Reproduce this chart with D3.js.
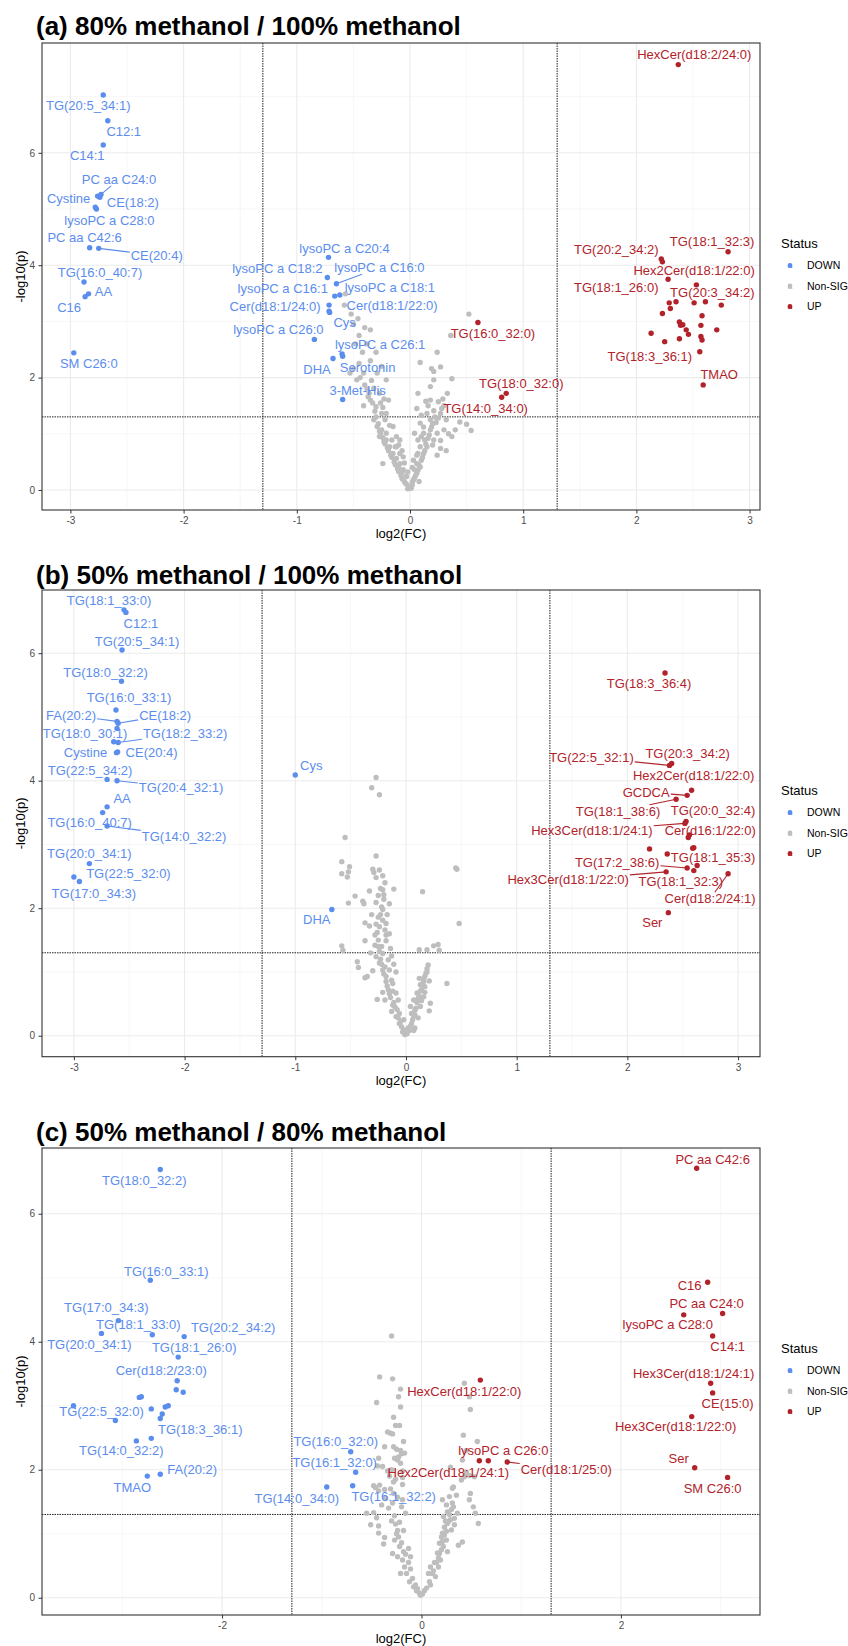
<!DOCTYPE html>
<html>
<head>
<meta charset="utf-8">
<script src="https://cdnjs.cloudflare.com/ajax/libs/d3/7.8.5/d3.min.js"></script>
<style>
  html, body { margin: 0; padding: 0; background: #fff; }
  svg text { font-family: "Liberation Sans", Arial, Helvetica, sans-serif; }
</style>
</head>
<body>
<div id="chart"></div>
<script>
'use strict';

// ---- data: [log2FC, -log10p] for non-significant points, [name, log2FC, -log10p] for hits
var aNonSig = [[-0.57,3.49],[-0.58,3.29],[-0.52,3.13],[-0.40,2.89],[-0.35,2.85],[0.52,3.13],[0.36,2.75],[0.24,2.45],[0.09,2.27],[0.19,2.16],[0.27,2.19],[0.21,2.11],[0.37,1.98],[-0.35,2.30],[-0.50,2.16],[-0.53,2.08],[-0.47,1.96],[-0.40,1.87],[-0.32,1.81],[-0.27,1.72],[0.07,1.72],[0.18,1.60],[0.25,1.57],[-0.41,1.50],[-0.24,1.47],[-0.21,1.36],[0.06,1.45],[0.15,1.36],[0.21,1.41],[0.27,1.36],[0.32,1.25],[0.50,1.17],[0.54,1.06],[0.40,1.07],[0.37,0.95],[-0.32,1.25],[-0.29,1.13],[-0.25,1.07],[-0.21,1.01],[-0.16,0.89],[-0.18,0.77],[-0.15,0.65],[-0.12,0.56],[-0.24,0.47],[-0.09,0.47],[-0.06,0.36],[-0.03,0.24],[-0.01,0.06],[0.03,0.18],[0.06,0.30],[0.09,0.41],[0.10,0.53],[0.12,0.65],[0.15,0.77],[0.21,0.89],[0.24,1.01],[0.18,1.07],[0.09,1.19],[0.04,1.01],[0.27,0.74],[0.32,0.70],[0.07,0.65],[0.03,0.53],[-0.09,0.65],[-0.13,0.77],[-0.21,0.89],[-0.27,0.95],[-0.22,1.25],[-0.25,1.36],[0.12,1.01],[0.13,0.89],[0.18,1.25],[0.22,1.30],[0.10,1.33],[-0.15,1.13],[-0.19,1.60],[-0.37,1.66],[-0.29,2.08],[-0.04,0.12],[0.02,0.09],[-0.07,0.30],[-0.10,0.41],[0.04,0.36],[0.06,0.47],[-0.12,0.77],[0.09,0.77],[0.07,0.89],[-0.09,0.89],[-0.06,0.59],[0.30,1.07],[0.44,1.21],[-0.21,1.96],[-0.41,2.08],[0.21,1.96],[0.18,1.84],
  [-0.02,0.02],[-0.03,0.10],[-0.05,0.15],[-0.07,0.20],[-0.08,0.26],[-0.10,0.33],[-0.11,0.38],[-0.13,0.45],[-0.14,0.50],[-0.16,0.58],[-0.17,0.62],[-0.19,0.70],[-0.20,0.75],[-0.22,0.82],[-0.23,0.86],[-0.24,0.93],[-0.26,1.00],[-0.27,1.05],[-0.28,1.18],[-0.30,1.30],[-0.31,1.40],[-0.33,1.55],[-0.35,1.60],[-0.30,1.48],[-0.26,1.55],[-0.23,1.62],[-0.36,1.72],[-0.38,1.80],[-0.34,1.95],[-0.44,2.00],[-0.45,2.25],[-0.42,2.45],[-0.48,2.60],[-0.38,2.60],[-0.45,2.75],[-0.50,2.95],[-0.46,3.05],[-0.30,2.45],[-0.25,2.20],[-0.18,1.15],[-0.12,0.95],[-0.10,0.80],[-0.07,0.70],[-0.05,0.48],[-0.02,0.32],
  [0.01,0.03],[0.02,0.14],[0.04,0.22],[0.05,0.26],[0.07,0.35],[0.08,0.44],[0.11,0.58],[0.13,0.70],[0.14,0.82],[0.16,0.92],[0.17,0.98],[0.19,1.12],[0.20,1.18],[0.23,1.20],[0.25,1.28],[0.28,1.45],[0.30,1.50],[0.12,1.12],[0.16,1.50],[0.14,1.58],[0.10,0.95],[0.20,0.80],[0.24,0.62],[0.27,0.88],[0.34,1.00],[0.06,0.62],[0.02,0.40],[0.08,0.15],[0.29,1.62],[0.33,1.72]];

var aDown = [["TG(20:5_34:1)",-2.71,7.03],["C12:1",-2.67,6.57],["C14:1",-2.71,6.14],["PC aa C24:0",-2.73,5.26],["Cystine",-2.76,5.23],["CE(18:2)",-2.74,5.21],["lysoPC a C28:0",-2.77,5.00],["",-2.78,5.03],["PC aa C42:6",-2.83,4.31],["CE(20:4)",-2.75,4.30],["TG(16:0_40:7)",-2.88,3.70],["AA",-2.84,3.49],["C16",-2.87,3.44],["SM C26:0",-2.97,2.44],["lysoPC a C20:4",-0.72,4.14],["lysoPC a C18:2",-0.73,3.78],["lysoPC a C16:0",-0.65,3.67],["lysoPC a C16:1",-0.665,3.45],["lysoPC a C18:1",-0.62,3.47],["Cer(d18:1/22:0)",-0.715,3.29],["Cer(d18:1/24:0)",-0.715,3.18],["Cys",-0.71,3.16],["lysoPC a C26:0",-0.845,2.68],["lysoPC a C26:1",-0.60,2.42],["Serotonin",-0.595,2.38],["DHA",-0.68,2.34],["3-Met-His",-0.595,1.61]];

var aUp = [["HexCer(d18:2/24:0)",2.37,7.57],["TG(18:1_32:3)",2.81,4.24],["TG(20:2_34:2)",2.22,4.11],["",2.23,4.06],["Hex2Cer(d18:1/22:0)",2.28,3.75],["TG(20:3_34:2)",2.53,3.65],["TG(18:1_26:0)",2.29,3.33],["TG(18:3_36:1)",2.56,2.46],["TMAO",2.59,1.87],["TG(16:0_32:0)",0.60,2.98],["TG(18:0_32:0)",0.85,1.72],["TG(14:0_34:0)",0.81,1.65],["",2.35,3.35],["",2.30,3.23],["",2.51,3.33],["",2.61,3.35],["",2.75,3.29],["",2.23,3.14],["",2.58,3.10],["",2.38,2.99],["",2.39,2.93],["",2.41,2.94],["",2.57,2.93],["",2.44,2.85],["",2.46,2.77],["",2.71,2.85],["",2.13,2.79],["",2.25,2.64],["",2.38,2.69],["",2.57,2.73],["",2.58,2.67]];

var bNonSig = [[-0.27,4.05],[-0.31,3.89],[-0.24,3.78],[-0.55,3.11],[-0.27,2.82],[-0.58,2.73],[-0.51,2.65],[-0.52,2.57],[-0.58,2.54],[-0.53,2.49],[-0.30,2.61],[-0.29,2.56],[-0.21,2.51],[-0.27,2.48],[0.45,2.63],[0.46,2.61],[-0.23,2.31],[-0.21,2.29],[-0.11,2.30],[-0.33,2.27],[0.15,2.26],[-0.46,2.19],[-0.20,2.21],[-0.20,2.14],[-0.39,2.11],[-0.52,2.08],[-0.27,2.09],[-0.38,2.07],[-0.15,2.07],[-0.21,1.98],[-0.31,1.90],[-0.25,1.86],[-0.21,1.81],[-0.18,1.76],[-0.37,1.77],[-0.33,1.72],[-0.24,1.71],[-0.19,1.66],[-0.28,1.58],[-0.18,1.58],[-0.37,1.49],[-0.18,1.49],[0.48,1.76],[-0.58,1.41],[-0.57,1.34],[-0.28,1.42],[-0.22,1.40],[-0.14,1.37],[0.12,1.35],[0.19,1.35],[0.25,1.41],[0.29,1.43],[0.30,1.34],[-0.44,1.16],[-0.43,1.07],[-0.27,1.24],[-0.24,1.14],[-0.19,1.08],[-0.15,1.03],[-0.09,1.00],[-0.37,0.91],[-0.35,0.93],[-0.18,0.93],[-0.13,0.87],[0.20,1.11],[0.19,1.00],[0.17,0.93],[0.16,0.85],[0.13,0.80],[0.14,0.72],[0.10,0.67],[0.11,0.59],[0.37,0.82],[0.22,0.51],[0.21,0.39],[-0.21,0.68],[-0.16,0.72],[-0.09,0.67],[-0.26,0.57],[-0.19,0.56],[-0.12,0.48],[-0.13,0.38],[-0.09,0.30],[-0.06,0.19],[-0.02,0.09],[0.00,0.04],[0.02,0.12],[0.05,0.19],[0.07,0.08],[0.07,0.30],[0.08,0.40],[0.04,0.46],[0.13,0.46],[-0.06,0.35],[-0.07,0.56],[0.07,0.56],[-0.02,0.25],[0.16,0.61],[0.17,0.77],[-0.12,0.82],[-0.16,1.19],[-0.21,1.29],[-0.25,1.50],
  [-0.01,0.02],[-0.03,0.06],[-0.04,0.14],[-0.05,0.22],[-0.07,0.28],[-0.08,0.41],[-0.10,0.45],[-0.11,0.52],[-0.14,0.60],[-0.15,0.66],[-0.17,0.78],[-0.18,0.85],[-0.20,0.97],[-0.21,1.03],[-0.22,1.12],[-0.23,1.20],[-0.24,1.32],[-0.25,1.40],[-0.26,1.62],[-0.27,1.75],[-0.23,1.90],[-0.22,2.02],[-0.25,2.20],[-0.19,2.40],[-0.24,2.60],[-0.17,1.90],[-0.15,1.60],[-0.13,1.25],[-0.11,1.12],[-0.12,0.70],[-0.30,1.02],[-0.32,1.30],
  [0.01,0.03],[0.03,0.08],[0.04,0.15],[0.06,0.25],[0.08,0.33],[0.09,0.43],[0.10,0.52],[0.12,0.62],[0.13,0.70],[0.15,0.82],[0.16,0.90],[0.18,0.98],[0.19,1.05],[0.08,0.12],[0.11,0.28],[0.05,0.35],[0.14,0.55],[0.17,0.68],[0.21,0.86],[0.12,0.90]];

var bDown = [["TG(18:1_33:0)",-2.547,6.68],["C12:1",-2.53,6.64],["TG(20:5_34:1)",-2.565,6.05],["TG(18:0_32:2)",-2.57,5.56],["TG(16:0_33:1)",-2.62,5.11],["FA(20:2)",-2.61,4.93],["CE(18:2)",-2.60,4.90],["TG(18:0_30:1)",-2.61,4.82],["TG(18:2_33:2)",-2.60,4.60],["",-2.64,4.61],["Cystine",-2.615,4.44],["CE(20:4)",-2.605,4.45],["TG(22:5_34:2)",-2.70,4.02],["TG(20:4_32:1)",-2.61,4.00],["AA",-2.70,3.59],["TG(16:0_40:7)",-2.74,3.50],["TG(14:0_32:2)",-2.70,3.29],["TG(20:0_34:1)",-2.86,2.70],["TG(22:5_32:0)",-2.95,2.42],["TG(17:0_34:3)",-3.00,2.49],["Cys",-1.00,4.09],["DHA",-0.67,1.98]];

var bUp = [["TG(18:3_36:4)",2.34,5.69],["TG(20:3_34:2)",2.40,4.27],["TG(22:5_32:1)",2.38,4.24],["Hex2Cer(d18:1/22:0)",2.58,3.85],["GCDCA",2.54,3.77],["TG(18:1_38:6)",2.44,3.71],["TG(20:0_32:4)",2.53,3.36],["Hex3Cer(d18:1/24:1)",2.52,3.33],["Cer(d16:1/22:0)",2.55,3.11],["",2.56,3.15],["",2.60,2.95],["",2.59,2.94],["",2.20,2.93],["",2.36,2.85],["TG(18:1_35:3)",2.63,2.67],["TG(17:2_38:6)",2.54,2.63],["Hex3Cer(d18:1/22:0)",2.35,2.57],["TG(18:1_32:3)",2.60,2.59],["Cer(d18:2/24:1)",2.91,2.54],["Ser",2.37,1.93]];

var cNonSig = [[-0.30,4.09],[-0.42,3.45],[-0.29,3.42],[-0.21,3.26],[-0.23,3.14],[-0.45,3.05],[-0.21,2.98],[0.43,3.35],[0.48,3.14],[0.49,2.94],[-0.28,2.82],[-0.26,2.69],[-0.22,2.69],[-0.34,2.59],[-0.29,2.56],[-0.18,2.44],[0.42,2.54],[0.56,2.44],[-0.37,2.36],[-0.28,2.36],[-0.25,2.32],[-0.20,2.25],[-0.27,2.18],[-0.24,2.15],[-0.21,2.10],[0.41,2.15],[-0.43,2.18],[0.29,2.04],[0.43,1.89],[0.40,1.84],[0.53,1.89],[-0.48,1.75],[-0.42,1.76],[-0.28,1.81],[-0.19,1.77],[0.31,1.71],[-0.31,2.57],[0.45,2.30],[-0.21,2.30],[-0.17,2.26],[-0.44,2.06],[-0.39,2.05],[-0.34,1.98],[-0.19,1.98],[-0.19,1.88],[0.45,1.96],[0.48,1.91],[-0.46,1.72],[-0.43,1.67],[-0.37,1.69],[-0.28,1.63],[-0.24,1.57],[-0.19,1.53],[0.21,1.53],[0.32,1.73],[0.49,1.63],[0.48,1.53],[-0.55,1.32],[-0.48,1.33],[-0.20,1.42],[-0.16,1.32],[0.52,1.42],[0.54,1.32],[-0.51,1.14],[-0.43,1.01],[-0.37,0.94],[-0.43,1.12],[-0.27,0.90],[-0.22,0.80],[-0.38,0.84],[-0.29,0.69],[-0.24,0.64],[-0.19,0.59],[-0.17,0.48],[-0.15,0.38],[-0.21,0.38],[-0.12,0.25],[-0.08,0.17],[-0.05,0.11],[-0.02,0.07],[0.03,0.11],[0.09,0.20],[0.14,0.33],[0.11,0.38],[0.17,0.48],[0.19,0.59],[0.18,0.69],[0.22,0.80],[0.25,0.90],[0.21,1.01],[0.30,1.06],[0.33,1.14],[0.27,1.19],[0.37,0.82],[0.41,0.87],[0.57,1.16],[0.22,1.27],[0.26,1.34],[0.32,1.42],[0.33,1.24],[0.36,1.32],[-0.13,0.77],[-0.11,0.64],[0.09,0.48],[0.07,0.38],[0.23,1.10],[0.28,1.30],[0.24,1.20],[0.20,0.95],[0.16,0.70],[0.13,0.55],[-0.25,1.00],[-0.30,1.20],[-0.33,1.40],[-0.36,1.55],[-0.40,1.45],[-0.45,1.25],[-0.26,1.85],[-0.30,2.00],[-0.23,2.20],
  [-0.01,0.04],[-0.04,0.14],[-0.06,0.20],[-0.09,0.30],[-0.11,0.45],[-0.13,0.55],[-0.16,0.68],[-0.18,0.72],[-0.20,0.86],[-0.23,0.95],[-0.24,1.05],[-0.26,1.15],[-0.27,1.28],[-0.29,1.48],[-0.31,1.70],[-0.32,1.90],[-0.22,1.18],[-0.18,1.05],[0.01,0.06],[0.05,0.15],[0.08,0.25],[0.12,0.42],[0.15,0.55],[0.17,0.62],[0.20,0.75],[0.21,0.88],[0.23,0.98],[0.25,1.04],[0.26,1.16],[0.29,1.22],[0.30,1.38],[0.31,1.48],[0.28,1.58],[0.35,1.60],[0.25,1.45],[0.18,0.85],[0.26,0.72]];

var cDown = [["TG(18:0_32:2)",-2.62,6.69],["TG(16:0_33:1)",-2.72,4.96],["TG(17:0_34:3)",-3.04,4.33],["TG(18:1_33:0)",-2.70,4.11],["TG(20:0_34:1)",-3.21,4.13],["TG(20:2_34:2)",-2.38,4.08],["TG(18:1_26:0)",-2.44,3.76],["Cer(d18:2/23:0)",-2.45,3.39],["",-2.46,3.25],["",-2.39,3.21],["",-2.83,3.13],["",-2.81,3.14],["",-2.71,2.95],["",-2.57,2.98],["",-2.54,3.00],["TG(22:5_32:0)",-3.49,3.00],["TG(18:3_36:1)",-2.62,2.80],["",-2.60,2.87],["",-3.07,2.77],["TG(14:0_32:2)",-2.86,2.45],["",-2.71,2.49],["FA(20:2)",-2.62,1.93],["TMAO",-2.75,1.90],["TG(16:0_32:0)",-0.71,2.28],["TG(16:1_32:0)",-0.66,1.96],["TG(14:0_34:0)",-0.95,1.73],["TG(16:1_32:2)",-0.69,1.75]];

var cUp = [["PC aa C42:6",2.76,6.71],["C16",2.87,4.93],["PC aa C24:0",3.02,4.44],["lysoPC a C28:0",2.63,4.42],["C14:1",2.92,4.09],["Hex3Cer(d18:1/24:1)",2.90,3.35],["CE(15:0)",2.92,3.20],["Hex3Cer(d18:1/22:0)",2.71,2.83],["Ser",2.74,2.03],["SM C26:0",3.07,1.88],["HexCer(d18:1/22:0)",0.59,3.40],["lysoPC a C26:0",0.67,2.14],["Hex2Cer(d18:1/24:1)",0.58,2.14],["Cer(d18:1/25:0)",0.86,2.12]];

var statusLevels = ['DOWN', 'Non-SIG', 'UP'];
var fcCut = 1.3;
var pCut = 1.301;

// ---- layout: label offsets in px from the point [dx, dy, drawSegment]
var aNudge = {
  'TG(20:5_34:1)':[-15,11], 'C12:1':[16,11], 'C14:1':[-16,11], 'PC aa C24:0':[18,-15,1],
  'Cystine':[-29,2], 'CE(18:2)':[33,5], 'lysoPC a C28:0':[13,11], 'PC aa C42:6':[-5,-10],
  'CE(20:4)':[58,7,1], 'TG(16:0_40:7)':[16,-10], 'AA':[15,-2], 'C16':[-16,11], 'SM C26:0':[15,11],
  'lysoPC a C20:4':[16,-9], 'lysoPC a C18:2':[-50,-9], 'lysoPC a C16:0':[43,-16,1],
  'lysoPC a C16:1':[-52,-8], 'lysoPC a C18:1':[50,-8], 'Cer(d18:1/22:0)':[63,0],
  'Cer(d18:1/24:0)':[-54,-5], 'Cys':[15,10], 'lysoPC a C26:0':[-36,-10], 'lysoPC a C26:1':[38,-10],
  'Serotonin':[25,11], 'DHA':[-16,11], '3-Met-His':[15,-9],
  'HexCer(d18:2/24:0)':[16,-10], 'TG(18:1_32:3)':[-16,-10], 'TG(20:2_34:2)':[-45,-10],
  'Hex2Cer(d18:1/22:0)':[26,-9], 'TG(20:3_34:2)':[16,8], 'TG(18:1_26:0)':[-53,-15],
  'TG(18:3_36:1)':[-50,5], 'TMAO':[16,-10], 'TG(16:0_32:0)':[15,11], 'TG(18:0_32:0)':[15,-10],
  'TG(14:0_34:0)':[-16,11]
};
var bNudge = {
  'TG(18:1_33:0)':[-15,-9], 'C12:1':[15,11], 'TG(20:5_34:1)':[15,-9], 'TG(18:0_32:2)':[-16,-9],
  'TG(16:0_33:1)':[13,-12], 'FA(20:2)':[-46,-6,1], 'CE(18:2)':[47,-8,1], 'TG(18:0_30:1)':[-32,5],
  'TG(18:2_33:2)':[67,-9,1], 'Cystine':[-31,0], 'CE(20:4)':[34,0], 'TG(22:5_34:2)':[-17,-9],
  'TG(20:4_32:1)':[64,7,1], 'AA':[15,-8], 'TG(16:0_40:7)':[-13,10], 'TG(14:0_32:2)':[77,10,1],
  'TG(20:0_34:1)':[0,-10], 'TG(22:5_32:0)':[49,-8], 'TG(17:0_34:3)':[20,16], 'Cys':[16,-10], 'DHA':[-15,10],
  'TG(18:3_36:4)':[-16,11], 'TG(20:3_34:2)':[16,-10], 'TG(22:5_32:1)':[-78,-8,1],
  'Hex2Cer(d18:1/22:0)':[2,-15], 'GCDCA':[-41,-3,1], 'TG(18:1_38:6)':[-58,12,1],
  'TG(20:0_32:4)':[27,-11], 'Hex3Cer(d18:1/24:1)':[-93,7,1], 'Cer(d16:1/22:0)':[22,-7],
  'TG(18:1_35:3)':[16,-8], 'TG(17:2_38:6)':[-70,-6,1], 'Hex3Cer(d18:1/22:0)':[-98,8,1],
  'TG(18:1_32:3)':[-13,11], 'Cer(d18:2/24:1)':[-18,25,1], 'Ser':[-16,10]
};
var cNudge = {
  'TG(18:0_32:2)':[-16,11], 'TG(16:0_33:1)':[16,-9], 'TG(17:0_34:3)':[-12,-13], 'TG(18:1_33:0)':[-14,-10],
  'TG(20:0_34:1)':[-12,11], 'TG(20:2_34:2)':[49,-9], 'TG(18:1_26:0)':[16,-10], 'Cer(d18:2/23:0)':[-16,-10],
  'TG(22:5_32:0)':[28,6], 'TG(18:3_36:1)':[40,11], 'TG(14:0_32:2)':[-15,10], 'FA(20:2)':[32,-5],
  'TMAO':[-15,11], 'TG(16:0_32:0)':[-15,-10], 'TG(16:1_32:0)':[-21,-10], 'TG(14:0_34:0)':[-30,11],
  'TG(16:1_32:2)':[41,11],
  'PC aa C42:6':[16,-9], 'C16':[-18,3], 'PC aa C24:0':[-16,-10], 'lysoPC a C28:0':[-16,10],
  'C14:1':[15,10], 'Hex3Cer(d18:1/24:1)':[-17,-10], 'CE(15:0)':[15,11], 'Hex3Cer(d18:1/22:0)':[-16,10],
  'Ser':[-16,-9], 'SM C26:0':[-15,11], 'HexCer(d18:1/22:0)':[-16,11], 'lysoPC a C26:0':[15,-10],
  'Hex2Cer(d18:1/24:1)':[-31,12], 'Cer(d18:1/25:0)':[59,7,1]
};

var colors = { 'DOWN': '#5B8DEE', 'Non-SIG': '#BEBEBE', 'UP': '#B2222A' };

var W = 848, H = 1646;
var svg = d3.select('#chart').append('svg')
  .attr('width', W).attr('height', H)
  .attr('viewBox', '0 0 ' + W + ' ' + H);

svg.append('rect').attr('width', W).attr('height', H).attr('fill', '#fff');

var panels = [
  { title: '(a) 80% methanol / 100% methanol', titleY: 35, top: 43, bottom: 510,
    xDom: [-3.251, 3.092], yDom: [-0.356, 7.954],
    xMajor: [-3, -2, -1, 0, 1, 2, 3], xMinor: [-2.5, -1.5, -0.5, 0.5, 1.5, 2.5],
    nonSig: aNonSig, down: aDown, up: aUp, nudge: aNudge },
  { title: '(b) 50% methanol / 100% methanol', titleY: 584, top: 590, bottom: 1056.7,
    xDom: [-3.288, 3.198], yDom: [-0.329, 6.991],
    xMajor: [-3, -2, -1, 0, 1, 2, 3], xMinor: [-2.5, -1.5, -0.5, 0.5, 1.5, 2.5],
    nonSig: bNonSig, down: bDown, up: bUp, nudge: bNudge },
  { title: '(c) 50% methanol / 80% methanol', titleY: 1141, top: 1148, bottom: 1615,
    xDom: [-3.806, 3.395], yDom: [-0.27, 7.027],
    xMajor: [-2, 0, 2], xMinor: [-3, -1, 1, 3],
    nonSig: cNonSig, down: cDown, up: cUp, nudge: cNudge }
];

var L = 42, R = 760;

function drawPanel(p) {
  var g = svg.append('g');
  var x = d3.scaleLinear().domain(p.xDom).range([L, R]);
  var y = d3.scaleLinear().domain(p.yDom).range([p.bottom, p.top]);
  var yMajor = [0, 2, 4, 6], yMinor = [1, 3, 5, 7].filter(function(v) { return v < p.yDom[1]; });

  g.append('text')
    .attr('x', 36).attr('y', p.titleY)
    .attr('font-size', 26).attr('font-weight', 'bold').attr('fill', '#000')
    .text(p.title);

  // grid
  var grid = g.append('g');
  p.xMinor.forEach(function(v) {
    grid.append('line').attr('x1', x(v)).attr('x2', x(v)).attr('y1', p.top).attr('y2', p.bottom)
      .attr('stroke', '#F2F2F2').attr('stroke-width', 0.6);
  });
  yMinor.forEach(function(v) {
    grid.append('line').attr('x1', L).attr('x2', R).attr('y1', y(v)).attr('y2', y(v))
      .attr('stroke', '#F2F2F2').attr('stroke-width', 0.6);
  });
  p.xMajor.forEach(function(v) {
    grid.append('line').attr('x1', x(v)).attr('x2', x(v)).attr('y1', p.top).attr('y2', p.bottom)
      .attr('stroke', '#EBEBEB').attr('stroke-width', 1.1);
  });
  yMajor.forEach(function(v) {
    grid.append('line').attr('x1', L).attr('x2', R).attr('y1', y(v)).attr('y2', y(v))
      .attr('stroke', '#EBEBEB').attr('stroke-width', 1.1);
  });

  // threshold lines
  [-fcCut, fcCut].forEach(function(v) {
    g.append('line').attr('x1', x(v)).attr('x2', x(v)).attr('y1', p.top).attr('y2', p.bottom)
      .attr('stroke', '#222').attr('stroke-width', 1).attr('stroke-dasharray', '1.5,1');
  });
  g.append('line').attr('x1', L).attr('x2', R).attr('y1', y(pCut)).attr('y2', y(pCut))
    .attr('stroke', '#222').attr('stroke-width', 1).attr('stroke-dasharray', '1.5,1');

  // points
  g.append('g').selectAll('circle').data(p.nonSig).join('circle')
    .attr('cx', function(d) { return x(d[0]); })
    .attr('cy', function(d) { return y(d[1]); })
    .attr('r', 2.7).attr('fill', colors['Non-SIG']);

  var hits = p.down.map(function(d) { return { name: d[0], fc: d[1], p: d[2], s: 'DOWN' }; })
    .concat(p.up.map(function(d) { return { name: d[0], fc: d[1], p: d[2], s: 'UP' }; }));

  g.append('g').selectAll('circle').data(hits).join('circle')
    .attr('cx', function(d) { return x(d.fc); })
    .attr('cy', function(d) { return y(d.p); })
    .attr('r', 2.7).attr('fill', function(d) { return colors[d.s]; });

  // labels with optional leader segments
  var lab = g.append('g');
  hits.filter(function(d) { return d.name; }).forEach(function(d) {
    var px = x(d.fc), py = y(d.p);
    var n = p.nudge[d.name] || [12, -9];
    var cx = px + n[0], cy = py + n[1];
    var t = lab.append('text')
      .attr('x', cx).attr('y', cy).attr('dy', '0.35em')
      .attr('text-anchor', 'middle').attr('font-size', 13)
      .attr('fill', colors[d.s]).text(d.name);
    if (n[2]) {
      var bb = t.node().getBBox();
      var hw = bb.width / 2 + 1, hh = bb.height / 2 - 1;
      var dx = px - cx, dy = py - cy;
      var s = Math.min(dx ? hw / Math.abs(dx) : Infinity, dy ? hh / Math.abs(dy) : Infinity);
      lab.append('line')
        .attr('x1', px).attr('y1', py)
        .attr('x2', cx + dx * s).attr('y2', cy + dy * s)
        .attr('stroke', colors[d.s]).attr('stroke-width', 1.1);
    }
  });

  // panel border
  g.append('rect').attr('x', L).attr('y', p.top)
    .attr('width', R - L).attr('height', p.bottom - p.top)
    .attr('fill', 'none').attr('stroke', '#333').attr('stroke-width', 1.1);

  // axes
  var ya = g.append('g').attr('transform', 'translate(' + L + ',0)')
    .call(d3.axisLeft(y).tickValues(yMajor).tickSize(3.5).tickPadding(3.5)
      .tickFormat(function(d) { return String(d); }));
  var xa = g.append('g').attr('transform', 'translate(0,' + p.bottom + ')')
    .call(d3.axisBottom(x).tickValues(p.xMajor).tickSize(3.5).tickPadding(3.5)
      .tickFormat(function(d) { return String(d); }));
  [ya, xa].forEach(function(a) {
    a.select('.domain').remove();
    a.selectAll('line').attr('stroke', '#333').attr('stroke-width', 1);
    a.selectAll('text').attr('fill', '#4D4D4D').attr('font-size', 10)
      .attr('font-family', '"Liberation Sans", Arial, sans-serif');
  });

  g.append('text')
    .attr('x', (L + R) / 2).attr('y', p.bottom + 28)
    .attr('text-anchor', 'middle').attr('font-size', 13).attr('fill', '#000')
    .text('log2(FC)');
  g.append('text')
    .attr('transform', 'translate(20,' + ((p.top + p.bottom) / 2) + ') rotate(-90)')
    .attr('dy', '0.35em')
    .attr('text-anchor', 'middle').attr('font-size', 13).attr('fill', '#000')
    .text('-log10(p)');

  // legend
  var lg = g.append('g').attr('transform', 'translate(781,' + (p.top + 200) + ')');
  lg.append('text').attr('x', 0).attr('y', 0).attr('dy', '0.35em')
    .attr('font-size', 13).attr('fill', '#000').text('Status');
  statusLevels.forEach(function(s, i) {
    var yy = 22.5 + i * 20.5;
    lg.append('text').attr('x', 9).attr('y', yy).attr('dy', '0.35em')
      .attr('text-anchor', 'middle').attr('font-size', 8).attr('font-weight', 'bold')
      .attr('fill', colors[s]).text('a');
    lg.append('circle').attr('cx', 9).attr('cy', yy).attr('r', 2.4).attr('fill', colors[s]);
    lg.append('text').attr('x', 26).attr('y', yy).attr('dy', '0.35em')
      .attr('font-size', 10.5).attr('fill', '#000').text(s);
  });
}

panels.forEach(drawPanel);
</script>
</body>
</html>
